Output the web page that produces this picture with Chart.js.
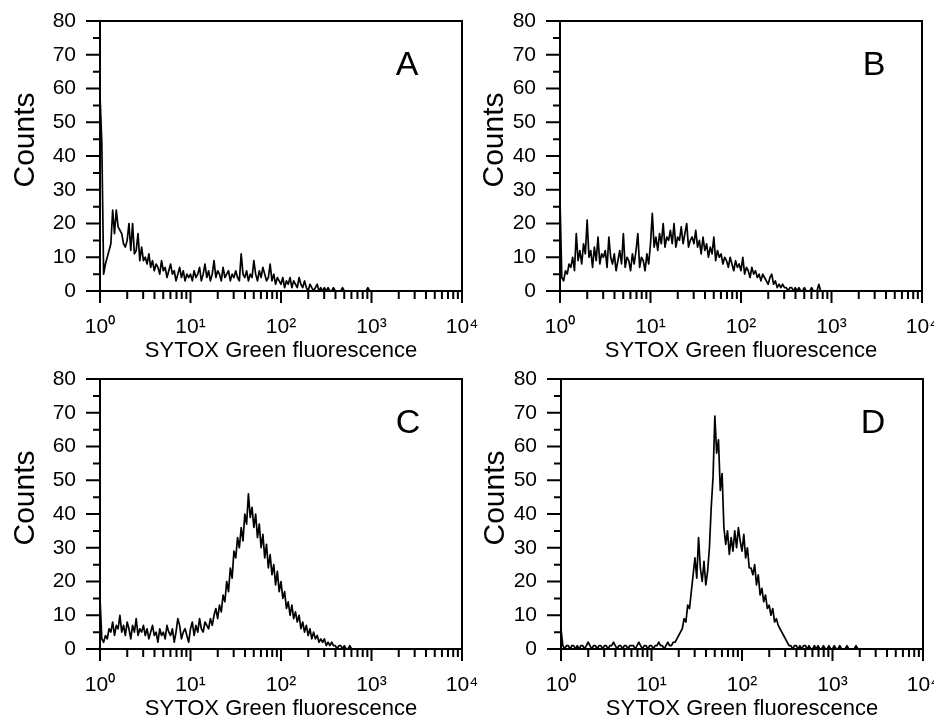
<!DOCTYPE html>
<html>
<head>
<meta charset="utf-8">
<script src="https://cdn.jsdelivr.net/npm/chart.js@4.4.1/dist/chart.umd.min.js"></script>
<style>
  html, body { margin: 0; padding: 0; background: #fff; overflow: hidden; }
  body { width: 934px; height: 721px; position: relative; }
  canvas { position: absolute; }
</style>
</head>
<body>
<canvas id="panelA" width="482" height="365" style="left:0px;top:0px"></canvas>
<canvas id="panelB" width="474" height="365" style="left:460px;top:0px"></canvas>
<canvas id="panelC" width="482" height="365" style="left:0px;top:358px"></canvas>
<canvas id="panelD" width="473" height="365" style="left:461px;top:358px"></canvas>
<script>
// 50 channels per decade, 10^0 .. 10^4
const CH_PER_DECADE = 50;
const channels = Array.from({ length: 4 * CH_PER_DECADE + 1 }, (_, i) => i);
const decadeLabels = ["10⁰", "10¹", "10²", "10³", "10⁴"];
const countTicks = [0, 10, 20, 30, 40, 50, 60, 70, 80];

const countsA = [
    58, 44, 5, 8, 10, 12, 14, 24, 17, 24, 19, 18, 17, 14, 13, 15, 20, 12, 20, 11, 12, 17, 9, 13, 9,
    10, 8, 11, 7, 9, 6, 8, 7, 5, 9, 6, 7, 4, 6, 8, 5, 6, 3, 5, 7, 4, 6, 3, 5, 4,
    5, 3, 6, 4, 5, 7, 3, 5, 8, 4, 6, 3, 5, 9, 4, 6, 5, 3, 7, 4, 5, 6, 3, 5, 4,
    6, 4, 3, 11, 5, 4, 6, 3, 5, 4, 9, 5, 3, 6, 4, 7, 5, 3, 4, 8, 3, 5, 2, 4, 3,
    2, 4, 1, 3, 2, 4, 1, 3, 2, 1, 4, 2, 1, 3, 1, 0, 2, 1, 0, 1, 2, 0, 1, 0, 1,
    0, 1, 0, 0, 1, 0, 0, 0, 0, 1, 0, 0, 0, 0, 0, 0, 0, 0, 0, 0, 0, 0, 0, 1, 0,
    0, 0, 0, 0, 0, 0, 0, 0, 0, 0, 0, 0, 0, 0, 0, 0, 0, 0, 0, 0, 0, 0, 0, 0, 0,
    0, 0, 0, 0, 0, 0, 0, 0, 0, 0, 0, 0, 0, 0, 0, 0, 0, 0, 0, 0, 0, 0, 0, 0, 0,
    0
];
const countsB = [
    27, 4, 3, 6, 5, 8, 7, 10, 6, 17, 9, 12, 8, 14, 11, 21, 10, 12, 7, 13, 9, 16, 8, 11, 10,
    12, 7, 16, 10, 8, 11, 6, 9, 12, 8, 17, 7, 10, 9, 6, 11, 8, 12, 17, 7, 10, 9, 6, 11, 8,
    14, 23, 13, 16, 12, 17, 14, 20, 13, 16, 15, 18, 14, 20, 13, 16, 15, 19, 14, 17, 20, 13, 15, 16, 14,
    18, 13, 15, 11, 16, 12, 14, 10, 13, 11, 16, 9, 12, 10, 11, 8, 10, 9, 7, 10, 8, 6, 9, 7, 8,
    6, 10, 5, 7, 6, 4, 7, 5, 6, 4, 5, 3, 5, 4, 3, 2, 4, 5, 2, 3, 1, 2, 1, 2, 1,
    1, 0, 1, 1, 0, 1, 0, 1, 0, 0, 1, 0, 0, 0, 1, 0, 0, 0, 2, 0, 0, 0, 0, 0, 0,
    0, 0, 0, 0, 0, 0, 0, 0, 0, 0, 0, 0, 0, 0, 0, 0, 0, 0, 0, 0, 0, 0, 0, 0, 0,
    0, 0, 0, 0, 0, 0, 0, 0, 0, 0, 0, 0, 0, 0, 0, 0, 0, 0, 0, 0, 0, 0, 0, 0, 0,
    0
];
const countsC = [
    15, 3, 2, 4, 3, 6, 5, 8, 4, 7, 6, 10, 5, 7, 4, 8, 6, 3, 7, 5, 9, 4, 6, 5, 7,
    4, 6, 3, 5, 7, 4, 5, 2, 6, 4, 5, 3, 7, 5, 4, 6, 2, 5, 9, 7, 3, 5, 6, 4, 2,
    6, 8, 4, 7, 5, 9, 6, 5, 8, 7, 6, 9, 7, 10, 12, 9, 13, 11, 16, 14, 20, 17, 24, 21, 29,
    27, 33, 30, 36, 32, 40, 37, 46, 39, 42, 36, 40, 33, 37, 30, 34, 27, 31, 24, 28, 22, 25, 19, 23, 17,
    20, 15, 17, 12, 14, 10, 13, 9, 11, 8, 10, 6, 8, 5, 7, 4, 6, 3, 5, 3, 4, 2, 3, 2, 3,
    1, 2, 1, 2, 1, 1, 0, 1, 1, 0, 1, 0, 0, 1, 0, 0, 0, 0, 0, 0, 0, 0, 0, 0, 0,
    0, 0, 0, 0, 0, 0, 0, 0, 0, 0, 0, 0, 0, 0, 0, 0, 0, 0, 0, 0, 0, 0, 0, 0, 0,
    0, 0, 0, 0, 0, 0, 0, 0, 0, 0, 0, 0, 0, 0, 0, 0, 0, 0, 0, 0, 0, 0, 0, 0, 0,
    0
];
const countsD = [
    6, 1, 0, 1, 1, 0, 1, 1, 0, 1, 0, 1, 1, 0, 1, 2, 1, 0, 1, 1, 0, 1, 1, 0, 1,
    1, 0, 1, 1, 2, 1, 0, 1, 1, 0, 1, 1, 0, 1, 1, 1, 0, 1, 2, 1, 0, 1, 1, 0, 1,
    1, 0, 1, 1, 2, 1, 1, 0, 1, 2, 1, 1, 2, 2, 3, 4, 5, 6, 9, 8, 13, 12, 17, 22, 27,
    21, 33, 24, 20, 26, 19, 23, 30, 42, 51, 69, 58, 62, 47, 52, 36, 31, 35, 28, 33, 29, 35, 30, 36, 32,
    29, 34, 27, 30, 24, 24, 22, 25, 19, 22, 16, 18, 14, 16, 12, 13, 10, 12, 8, 9, 7, 6, 5, 4, 3,
    2, 1, 1, 0, 1, 1, 0, 1, 0, 1, 1, 0, 1, 0, 0, 1, 0, 1, 0, 0, 1, 0, 0, 1, 0,
    0, 1, 0, 0, 1, 0, 0, 0, 1, 0, 0, 0, 0, 1, 0, 0, 0, 0, 0, 0, 0, 0, 0, 0, 0,
    0, 0, 0, 0, 0, 0, 0, 0, 0, 0, 0, 0, 0, 0, 0, 0, 0, 0, 0, 0, 0, 0, 0, 0, 0,
    0
];

const FONT = "'Liberation Sans', Arial, sans-serif";
Chart.defaults.font.family = FONT;
Chart.defaults.color = "#000";

// frame, major/minor tick marks, panel letter and "Counts"
const axisDecor = {
    id: "axisDecor",
    afterDraw(chart, args, opts) {
        const { ctx, chartArea: a, scales: { x, y } } = chart;
        ctx.save();
        ctx.strokeStyle = "#000";
        ctx.lineWidth = 2;
        ctx.beginPath();
        for (let k = 0; k < decadeLabels.length; k++) {
            const px = x.getPixelForValue(k * CH_PER_DECADE);
            ctx.moveTo(px, a.bottom);
            ctx.lineTo(px, a.bottom + 12);
            if (k === decadeLabels.length - 1) break;
            for (let m = 2; m <= 9; m++) {
                const pm = x.getPixelForValue((k + Math.log10(m)) * CH_PER_DECADE);
                ctx.moveTo(pm, a.bottom);
                ctx.lineTo(pm, a.bottom + 8);
            }
        }
        for (let v = 0; v <= 80; v += 5) {
            const py = y.getPixelForValue(v);
            ctx.moveTo(a.left, py);
            ctx.lineTo(a.left - (v % 10 === 0 ? 14 : 7), py);
        }
        ctx.stroke();
        ctx.strokeRect(a.left, a.top, a.right - a.left, a.bottom - a.top);

        ctx.fillStyle = "#000";
        ctx.textAlign = "center";
        ctx.textBaseline = "alphabetic";
        ctx.font = "34px " + FONT;
        ctx.fillText(opts.letter, a.right - opts.letterDx, a.top + 54);

        ctx.translate(a.left - opts.titleDx, a.top + 119);
        ctx.rotate(-Math.PI / 2);
        ctx.font = "30px " + FONT;
        ctx.fillText("Counts", 0, 0);
        ctx.restore();
    }
};

function makePanel(id, counts, letter, letterDx, titleDx, padRight) {
    return new Chart(document.getElementById(id), {
        type: "line",
        data: {
            labels: channels,
            datasets: [{
                data: counts,
                borderColor: "#000",
                borderWidth: 1.7,
                borderJoinStyle: "round",
                pointRadius: 0,
                tension: 0
            }]
        },
        options: {
            responsive: false,
            animation: false,
            layout: { padding: { left: 0, top: 21, right: padRight, bottom: 1 } },
            plugins: {
                legend: { display: false },
                tooltip: { enabled: false },
                axisDecor: { letter, letterDx, titleDx }
            },
            scales: {
                x: {
                    type: "linear",
                    min: 0,
                    max: 4 * CH_PER_DECADE,
                    afterBuildTicks: s => { s.ticks = decadeLabels.map((_, k) => ({ value: k * CH_PER_DECADE })); },
                    // fixed box, no extra room for the end labels
                    afterFit: s => { s.height = 73; s.paddingLeft = 0; s.paddingRight = 0; },
                    grid: { display: false, drawTicks: false },
                    border: { display: false },
                    ticks: {
                        autoSkip: false,
                        maxRotation: 0,
                        padding: 24,
                        font: { size: 21 },
                        callback: v => decadeLabels[Math.round(v / CH_PER_DECADE)]
                    },
                    title: {
                        display: true,
                        text: "SYTOX Green fluorescence",
                        font: { size: 22 },
                        padding: { top: 0, bottom: 0 }
                    }
                },
                y: {
                    min: 0,
                    max: 80,
                    afterBuildTicks: s => { s.ticks = countTicks.map(v => ({ value: v })); },
                    afterFit: s => { s.width = 100; s.paddingTop = 0; s.paddingBottom = 0; },
                    grid: { display: false, drawTicks: false },
                    border: { display: false },
                    ticks: { padding: 24, font: { size: 21 } }
                }
            }
        },
        plugins: [axisDecor]
    });
}

makePanel("panelA", countsA, "A", 55, 66.5, 20);
makePanel("panelB", countsB, "B", 48, 57, 12);
makePanel("panelC", countsC, "C", 54, 66, 20);
makePanel("panelD", countsD, "D", 50, 57.5, 11);
</script>
</body>
</html>
